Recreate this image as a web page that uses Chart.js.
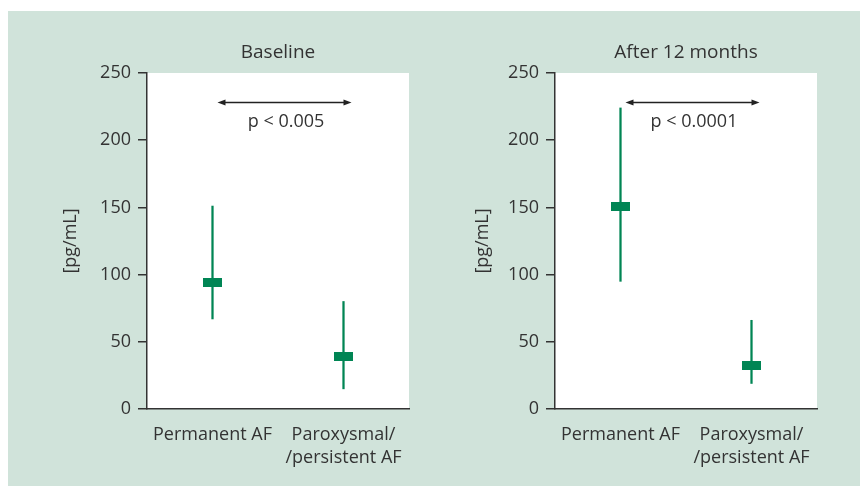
<!DOCTYPE html>
<html>
<head>
<meta charset="utf-8">
<script src="https://cdn.jsdelivr.net/npm/chart.js@4.4.1/dist/chart.umd.min.js"></script>
<style>
  body { margin: 0; background: #fff; width: 865px; height: 486px; position: relative; overflow: hidden; }
  #panel { position: absolute; left: 8px; top: 11px; width: 852px; height: 475px; background: rgb(208, 227, 218); }
  .box { position: absolute; top: 0; height: 486px; }
  #leftBox { left: 0; width: 432px; }
  #rightBox { left: 432px; width: 433px; }
</style>
</head>
<body>
<div id="panel"></div>
<div class="box" id="leftBox"><canvas id="baselineChart"></canvas></div>
<div class="box" id="rightBox"><canvas id="afterChart"></canvas></div>
<script>
// categories and values (pg/mL)
const categories = ['Permanent AF', ['Paroxysmal/', '/persistent AF']];
const baselineMedian = [94, 39];
const baselineLow = [67, 15];
const baselineHigh = [151, 80];
const afterMedian = [151, 32];
const afterLow = [95, 19];
const afterHigh = [224, 66];
const yTicks = [0, 50, 100, 150, 200, 250];
const chartTitles = ['Baseline', 'After 12 months'];
const pLabels = ['p < 0.005', 'p < 0.0001'];
const arrowLevel = 228;

const green = 'rgb(0, 133, 84)';
const dark = '#333';
const fontFamily = "'Open Sans', 'Noto Sans', sans-serif";

// median marker: small filled rectangle
const marker = document.createElement('canvas');
marker.width = 19;
marker.height = 9;
const mctx = marker.getContext('2d');
mctx.fillStyle = green;
mctx.fillRect(0, 0, 19, 9);

// white plot area, title and the p-value arrow
const decorPlugin = {
  id: 'decor',
  beforeDraw(chart) {
    const a = chart.chartArea;
    const ctx = chart.ctx;
    ctx.save();
    ctx.fillStyle = '#fff';
    ctx.fillRect(a.left, a.top, a.right - a.left, a.bottom - a.top);
    ctx.restore();
  },
  afterDraw(chart, args, opts) {
    const a = chart.chartArea;
    const ctx = chart.ctx;
    const x = chart.scales.x;
    const y = chart.scales.y;
    ctx.save();
    ctx.fillStyle = dark;
    ctx.font = '19px ' + fontFamily;
    ctx.textAlign = 'center';
    ctx.textBaseline = 'middle';
    ctx.fillText(opts.title, (a.left + a.right) / 2, a.top - 20);

    const x0 = x.getPixelForValue(0) + 5;
    const x1 = x.getPixelForValue(1) + 8;
    const yy = y.getPixelForValue(arrowLevel);
    ctx.strokeStyle = '#222';
    ctx.fillStyle = '#222';
    ctx.lineWidth = 1.5;
    ctx.beginPath();
    ctx.moveTo(x0 + 4, yy);
    ctx.lineTo(x1 - 4, yy);
    ctx.stroke();
    ctx.beginPath();
    ctx.moveTo(x0, yy);
    ctx.lineTo(x0 + 8, yy - 3);
    ctx.lineTo(x0 + 8, yy + 3);
    ctx.closePath();
    ctx.fill();
    ctx.beginPath();
    ctx.moveTo(x1, yy);
    ctx.lineTo(x1 - 8, yy - 3);
    ctx.lineTo(x1 - 8, yy + 3);
    ctx.closePath();
    ctx.fill();

    ctx.fillStyle = dark;
    ctx.font = '18px ' + fontFamily;
    ctx.fillText(opts.pText, (x0 + x1) / 2 + 1.5, yy + 19);
    ctx.restore();
  }
};

function makeChart(id, medians, lows, highs, title, pText, axisWidth, padRight, titlePad) {
  return new Chart(document.getElementById(id), {
    type: 'bar',
    data: {
      labels: categories,
      datasets: [{
        type: 'line',
        data: medians,
        showLine: false,
        pointStyle: marker,
        order: 0
      }, {
        data: lows.map((v, i) => [v, highs[i]]),
        backgroundColor: green,
        barThickness: 1.6,
        order: 1
      }]
    },
    options: {
      responsive: true,
      maintainAspectRatio: false,
      animation: false,
      layout: { padding: { top: 73, right: padRight, bottom: 17, left: 0 } },
      plugins: {
        legend: { display: false },
        tooltip: { enabled: false },
        decor: { title: title, pText: pText }
      },
      scales: {
        x: {
          grid: { display: false, drawTicks: false },
          border: { color: dark, width: 1.5 },
          ticks: {
            color: dark,
            padding: 15,
            font: { family: fontFamily, size: 18, lineHeight: 1.25 },
            maxRotation: 0
          },
          afterFit(scale) { scale.height = 60; }
        },
        y: {
          min: 0,
          max: 250,
          afterBuildTicks(scale) { scale.ticks = yTicks.map(v => ({ value: v })); },
          grid: { drawOnChartArea: false, drawTicks: true, tickLength: 9, color: dark, lineWidth: 1.5 },
          border: { color: dark, width: 1.5 },
          ticks: {
            color: dark,
            padding: 7,
            font: { family: fontFamily, size: 18 }
          },
          title: {
            display: true,
            text: '[pg/mL]',
            color: dark,
            font: { family: fontFamily, size: 18 },
            padding: { top: titlePad, bottom: 0 }
          },
          afterFit(scale) { scale.width = axisWidth; }
        }
      }
    },
    plugins: [decorPlugin]
  });
}

makeChart('baselineChart', baselineMedian, baselineLow, baselineHigh, chartTitles[0], pLabels[0], 147, 23, 60);
makeChart('afterChart', afterMedian, afterLow, afterHigh, chartTitles[1], pLabels[1], 123, 48, 40);
</script>
</body>
</html>
